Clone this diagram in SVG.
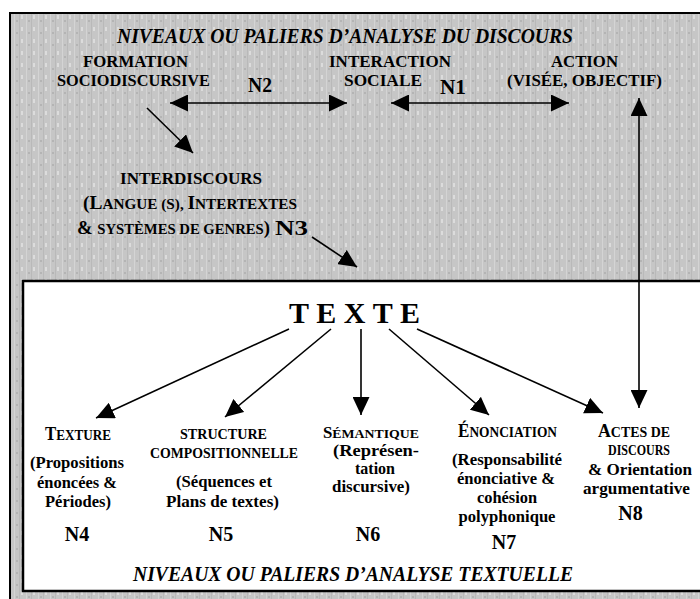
<svg xmlns="http://www.w3.org/2000/svg" width="700" height="599" viewBox="0 0 700 599">
<style>
.t{font-family:"Liberation Serif","Times New Roman","DejaVu Serif",serif;font-weight:bold;fill:#000;text-anchor:middle;font-size:17.5px}
.cap{font-size:17px}
.it{font-style:italic;font-size:21px}
.sc{font-size:14.5px}
.big{font-size:18.5px}
.n{font-size:20px}
.tight{font-size:16px}
.c{stroke:#000;stroke-width:1.6;fill:none}
</style>
<defs>
<marker id="ah" markerUnits="userSpaceOnUse" markerWidth="19" markerHeight="17" refX="18" refY="8.5" orient="auto-start-reverse">
<path d="M0,0 L18,8.5 L0,17 z" fill="#000"/>
</marker>
<pattern id="grain" width="12" height="12" patternUnits="userSpaceOnUse">
<rect width="12" height="12" fill="#c6c6c6"/>
<rect x="2" y="0" width="1" height="12" fill="#d4d4d4"/>
<rect x="7" y="0" width="1" height="12" fill="#b9b9b9"/>
<rect x="9" y="3" width="2" height="4" fill="#dcdcdc"/>
<rect x="4" y="8" width="2" height="2" fill="#b4b4b4"/>
</pattern>
</defs>
<rect width="700" height="599" fill="#fff"/>
<g id="outer-frame">
<rect x="10" y="13" width="700" height="600" fill="url(#grain)" stroke="#000" stroke-width="2"/>
</g>
<g id="inner-frame">
<rect x="23" y="281" width="690" height="310" fill="#fff" stroke="#000" stroke-width="2.5"/>
</g>
<g id="title-discours">
<text class="t it" x="345" y="43" textLength="456" lengthAdjust="spacingAndGlyphs">NIVEAUX OU PALIERS D’ANALYSE DU DISCOURS</text>
</g>
<g id="formation">
<text class="t cap" x="135.5" y="67" textLength="105" lengthAdjust="spacingAndGlyphs">FORMATION</text>
<text class="t cap" x="133.5" y="86" textLength="153" lengthAdjust="spacingAndGlyphs">SOCIODISCURSIVE</text>
</g>
<g id="interaction">
<text class="t cap" x="390" y="67" textLength="122" lengthAdjust="spacingAndGlyphs">INTERACTION</text>
<text class="t cap" x="383" y="86" textLength="78" lengthAdjust="spacingAndGlyphs">SOCIALE</text>
</g>
<g id="action">
<text class="t cap" x="584.5" y="67" textLength="67" lengthAdjust="spacingAndGlyphs">ACTION</text>
<text class="t cap" x="584.5" y="86" textLength="155" lengthAdjust="spacingAndGlyphs">(VISÉE, OBJECTIF)</text>
</g>
<g id="interdiscours">
<text class="t cap" x="191" y="184" textLength="142" lengthAdjust="spacingAndGlyphs">INTERDISCOURS</text>
<text class="t" x="190" y="209" textLength="214" lengthAdjust="spacingAndGlyphs"><tspan class="big">(L</tspan><tspan class="sc">ANGUE (S), </tspan><tspan class="big">I</tspan><tspan class="sc">NTERTEXTES</tspan></text>
<text class="t" x="173.5" y="234" textLength="193" lengthAdjust="spacingAndGlyphs"><tspan class="big">&amp; </tspan><tspan class="sc">SYSTÈMES DE GENRES</tspan><tspan class="big">)</tspan></text>
</g>
<g id="labels-n">
<text class="t n" x="260" y="92" textLength="24" lengthAdjust="spacingAndGlyphs">N2</text>
<text class="t n" x="453" y="94" textLength="26" lengthAdjust="spacingAndGlyphs">N1</text>
<text class="t n" x="291.5" y="235" textLength="33" lengthAdjust="spacingAndGlyphs">N3</text>
</g>
<g id="texte">
<text class="t" x="354.5" y="323" style="font-size:30px" textLength="131" lengthAdjust="spacing">TEXTE</text>
</g>
<g id="texture">
<text class="t" x="78" y="440" textLength="66" lengthAdjust="spacingAndGlyphs"><tspan class="big">T</tspan><tspan class="sc">EXTURE</tspan></text>
<text class="t" x="77" y="468" textLength="94" lengthAdjust="spacingAndGlyphs">(Propositions</text>
<text class="t" x="77" y="488" textLength="80" lengthAdjust="spacingAndGlyphs">énoncées &amp;</text>
<text class="t" x="78" y="507" textLength="66" lengthAdjust="spacingAndGlyphs">Périodes)</text>
<text class="t n" x="77" y="541">N4</text>
</g>
<g id="structure">
<text class="t sc" x="223.5" y="439" textLength="87" lengthAdjust="spacingAndGlyphs">STRUCTURE</text>
<text class="t sc" x="224" y="458" textLength="148" lengthAdjust="spacingAndGlyphs">COMPOSITIONNELLE</text>
<text class="t" x="224" y="487" textLength="96" lengthAdjust="spacingAndGlyphs">(Séquences et</text>
<text class="t" x="222.5" y="507" textLength="113" lengthAdjust="spacingAndGlyphs">Plans de textes)</text>
<text class="t n" x="221" y="541">N5</text>
</g>
<g id="semantique">
<text class="t" x="371" y="438" textLength="96" lengthAdjust="spacingAndGlyphs"><tspan style="font-size:16.5px">S</tspan><tspan style="font-size:13.5px">ÉMANTIQUE</tspan></text>
<text class="t tight" x="376" y="456" textLength="86" lengthAdjust="spacingAndGlyphs">(Représen-</text>
<text class="t tight" x="375" y="474">tation</text>
<text class="t tight" x="371" y="492" textLength="78" lengthAdjust="spacingAndGlyphs">discursive)</text>
<text class="t n" x="368" y="541">N6</text>
</g>
<g id="enonciation">
<text class="t" x="507.5" y="437" textLength="99" lengthAdjust="spacingAndGlyphs"><tspan class="big">É</tspan><tspan class="sc">NONCIATION</tspan></text>
<text class="t" x="507" y="465" textLength="110" lengthAdjust="spacingAndGlyphs">(Responsabilité</text>
<text class="t tight" x="506" y="484" textLength="98" lengthAdjust="spacingAndGlyphs">énonciative &amp;</text>
<text class="t tight" x="507" y="503" textLength="60" lengthAdjust="spacingAndGlyphs">cohésion</text>
<text class="t" x="507" y="522" textLength="97" lengthAdjust="spacingAndGlyphs">polyphonique</text>
<text class="t n" x="504" y="549">N7</text>
</g>
<g id="actes">
<text class="t" x="634" y="437" textLength="72" lengthAdjust="spacingAndGlyphs"><tspan class="big">A</tspan><tspan class="sc">CTES DE</tspan></text>
<text class="t sc" x="639" y="455" textLength="62" lengthAdjust="spacingAndGlyphs">DISCOURS</text>
<text class="t" x="640" y="475" textLength="104" lengthAdjust="spacingAndGlyphs">&amp; Orientation</text>
<text class="t" x="636.5" y="494" textLength="107" lengthAdjust="spacingAndGlyphs">argumentative</text>
<text class="t n" x="630.5" y="520">N8</text>
</g>
<g id="title-textuelle">
<text class="t it" x="353" y="581" textLength="440" lengthAdjust="spacingAndGlyphs">NIVEAUX OU PALIERS D’ANALYSE TEXTUELLE</text>
</g>
<g id="connectors">
<line class="c" x1="170" y1="103" x2="347" y2="103" marker-start="url(#ah)" marker-end="url(#ah)"/>
<line class="c" x1="391" y1="103" x2="569" y2="103" marker-start="url(#ah)" marker-end="url(#ah)"/>
<line class="c" x1="639" y1="98" x2="639" y2="408" marker-start="url(#ah)" marker-end="url(#ah)"/>
<line class="c" x1="147" y1="108" x2="193" y2="153" marker-end="url(#ah)"/>
<line class="c" x1="312" y1="237" x2="357" y2="267" marker-end="url(#ah)"/>
<line class="c" x1="289" y1="329" x2="96" y2="418" marker-end="url(#ah)"/>
<line class="c" x1="331" y1="329" x2="225" y2="417" marker-end="url(#ah)"/>
<line class="c" x1="361" y1="329" x2="361" y2="415" marker-end="url(#ah)"/>
<line class="c" x1="389" y1="329" x2="489" y2="415" marker-end="url(#ah)"/>
<line class="c" x1="417" y1="329" x2="603" y2="413" marker-end="url(#ah)"/>
</g>
</svg>
